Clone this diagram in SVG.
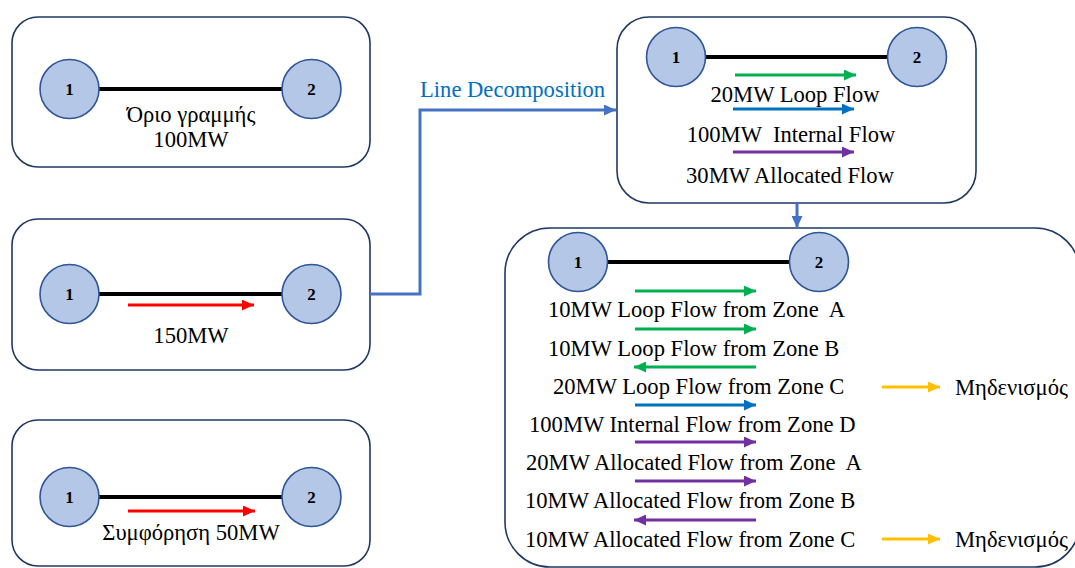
<svg xmlns="http://www.w3.org/2000/svg" width="1075" height="568" viewBox="0 0 1075 568">
  <style>
    .box { fill: #ffffff; stroke: #1f3864; stroke-width: 1.6; }
    .bus { fill: #b4c7e7; stroke: #2f5597; stroke-width: 1.6; }
    .busnum { font-family: "Liberation Serif", serif; font-size: 17px; font-weight: bold; fill: #000; text-anchor: middle; }
    .line { stroke: #000; stroke-width: 4; }
    .lbl { font-family: "Liberation Serif", serif; font-size: 22.6px; fill: #000; white-space: pre; }
    .mid { text-anchor: middle; }
    .flow { stroke-width: 3; fill: none; }
    .conn { stroke: #4472c4; stroke-width: 3; fill: none; }
  </style>
  <defs>
    <marker id="hRed" markerUnits="userSpaceOnUse" markerWidth="12" markerHeight="11" refX="12" refY="5.5" orient="auto"><path d="M0,0 L12,5.5 L0,11 z" fill="#ff0000"/></marker>
    <marker id="hGreen" markerUnits="userSpaceOnUse" markerWidth="12" markerHeight="11" refX="12" refY="5.5" orient="auto"><path d="M0,0 L12,5.5 L0,11 z" fill="#00b050"/></marker>
    <marker id="hBlue" markerUnits="userSpaceOnUse" markerWidth="12" markerHeight="11" refX="12" refY="5.5" orient="auto"><path d="M0,0 L12,5.5 L0,11 z" fill="#0070c0"/></marker>
    <marker id="hPurple" markerUnits="userSpaceOnUse" markerWidth="12" markerHeight="11" refX="12" refY="5.5" orient="auto"><path d="M0,0 L12,5.5 L0,11 z" fill="#7030a0"/></marker>
    <marker id="hYellow" markerUnits="userSpaceOnUse" markerWidth="12" markerHeight="11" refX="12" refY="5.5" orient="auto"><path d="M0,0 L12,5.5 L0,11 z" fill="#ffc000"/></marker>
    <marker id="hConn" markerUnits="userSpaceOnUse" markerWidth="12" markerHeight="11" refX="12" refY="5.5" orient="auto"><path d="M0,0 L12,5.5 L0,11 z" fill="#4472c4"/></marker>
  </defs>

  <!-- Line limit -->
  <g id="limit">
    <rect class="box" x="12" y="17" width="358" height="150" rx="26"/>
    <line class="line" x1="99" y1="89" x2="282" y2="89"/>
    <circle class="bus" cx="69.5" cy="89" r="29.5"/>
    <circle class="bus" cx="311.5" cy="89" r="29.5"/>
    <text class="busnum" x="69.5" y="95">1</text>
    <text class="busnum" x="311.5" y="95">2</text>
    <text class="lbl mid" x="191" y="122">Όριο γραμμής</text>
    <text class="lbl mid" x="191" y="147">100MW</text>
  </g>

  <!-- Actual flow -->
  <g id="actual-flow">
    <rect class="box" x="12" y="219" width="358" height="151" rx="26"/>
    <line class="line" x1="99" y1="294" x2="282" y2="294"/>
    <circle class="bus" cx="69.5" cy="294" r="29.5"/>
    <circle class="bus" cx="311.5" cy="294" r="29.5"/>
    <text class="busnum" x="69.5" y="300">1</text>
    <text class="busnum" x="311.5" y="300">2</text>
    <line class="flow" stroke="#ff0000" x1="128" y1="305" x2="254" y2="305" marker-end="url(#hRed)"/>
    <text class="lbl mid" x="191" y="343">150MW</text>
  </g>

  <!-- Congestion -->
  <g id="congestion">
    <rect class="box" x="12" y="420" width="358" height="146" rx="26"/>
    <line class="line" x1="99" y1="497" x2="282" y2="497"/>
    <circle class="bus" cx="69.5" cy="497" r="29.5"/>
    <circle class="bus" cx="311.5" cy="497" r="29.5"/>
    <text class="busnum" x="69.5" y="503">1</text>
    <text class="busnum" x="311.5" y="503">2</text>
    <line class="flow" stroke="#ff0000" x1="128" y1="511" x2="255" y2="511" marker-end="url(#hRed)"/>
    <text class="lbl mid" x="191" y="540">Συμφόρηση 50MW</text>
  </g>

  <!-- Decomposed flows -->
  <g id="decomposition">
    <rect class="box" x="617" y="17" width="359" height="186" rx="32"/>
    <line class="line" x1="705" y1="57" x2="888" y2="57"/>
    <circle class="bus" cx="676" cy="57" r="29.5"/>
    <circle class="bus" cx="917" cy="57" r="29.5"/>
    <text class="busnum" x="676" y="63">1</text>
    <text class="busnum" x="917" y="63">2</text>
    <line class="flow" stroke="#00b050" x1="735" y1="75" x2="856" y2="75" marker-end="url(#hGreen)"/>
    <text class="lbl mid" x="795" y="102">20MW Loop Flow</text>
    <line class="flow" stroke="#0070c0" x1="733" y1="109" x2="854" y2="109" marker-end="url(#hBlue)"/>
    <text class="lbl mid" x="791" y="142">100MW  Internal Flow</text>
    <line class="flow" stroke="#7030a0" x1="733" y1="152" x2="854" y2="152" marker-end="url(#hPurple)"/>
    <text class="lbl mid" x="790" y="183">30MW Allocated Flow</text>
  </g>

  <!-- Flows per zone -->
  <g id="zones">
    <rect class="box" x="505" y="228" width="575" height="339" rx="45"/>
    <line class="line" x1="607" y1="262" x2="790" y2="262"/>
    <circle class="bus" cx="578" cy="262" r="29.5"/>
    <circle class="bus" cx="819" cy="262" r="29.5"/>
    <text class="busnum" x="578" y="268">1</text>
    <text class="busnum" x="819" y="268">2</text>

    <line class="flow" stroke="#00b050" x1="635" y1="291" x2="756" y2="291" marker-end="url(#hGreen)"/>
    <text class="lbl" x="548" y="317">10MW Loop Flow from Zone  A</text>
    <line class="flow" stroke="#00b050" x1="635" y1="329" x2="756" y2="329" marker-end="url(#hGreen)"/>
    <text class="lbl" x="548" y="356">10MW Loop Flow from Zone B</text>
    <line class="flow" stroke="#00b050" x1="756" y1="367" x2="634" y2="367" marker-end="url(#hGreen)"/>
    <text class="lbl" x="553" y="394">20MW Loop Flow from Zone C</text>
    <line class="flow" stroke="#0070c0" x1="635" y1="405" x2="756" y2="405" marker-end="url(#hBlue)"/>
    <text class="lbl" x="529" y="432">100MW Internal Flow from Zone D</text>
    <line class="flow" stroke="#7030a0" x1="635" y1="442" x2="756" y2="442" marker-end="url(#hPurple)"/>
    <text class="lbl" x="526" y="470">20MW Allocated Flow from Zone  A</text>
    <line class="flow" stroke="#7030a0" x1="635" y1="481" x2="756" y2="481" marker-end="url(#hPurple)"/>
    <text class="lbl" x="525" y="508">10MW Allocated Flow from Zone B</text>
    <line class="flow" stroke="#7030a0" x1="756" y1="520" x2="634" y2="520" marker-end="url(#hPurple)"/>
    <text class="lbl" x="525" y="547">10MW Allocated Flow from Zone C</text>

    <line class="flow" stroke="#ffc000" x1="882" y1="387" x2="940" y2="387" marker-end="url(#hYellow)"/>
    <text class="lbl" x="955" y="395">Μηδενισμός</text>
    <line class="flow" stroke="#ffc000" x1="882" y1="539" x2="940" y2="539" marker-end="url(#hYellow)"/>
    <text class="lbl" x="955" y="547">Μηδενισμός</text>
  </g>

  <!-- Connectors -->
  <g id="connectors">
    <polyline class="conn" points="370,294 420,294 420,110 616,110" marker-end="url(#hConn)"/>
    <text class="lbl" x="420" y="97" style="fill:#0070c0">Line Decomposition</text>
    <line class="conn" x1="797" y1="203" x2="797" y2="228" marker-end="url(#hConn)"/>
  </g>
</svg>
